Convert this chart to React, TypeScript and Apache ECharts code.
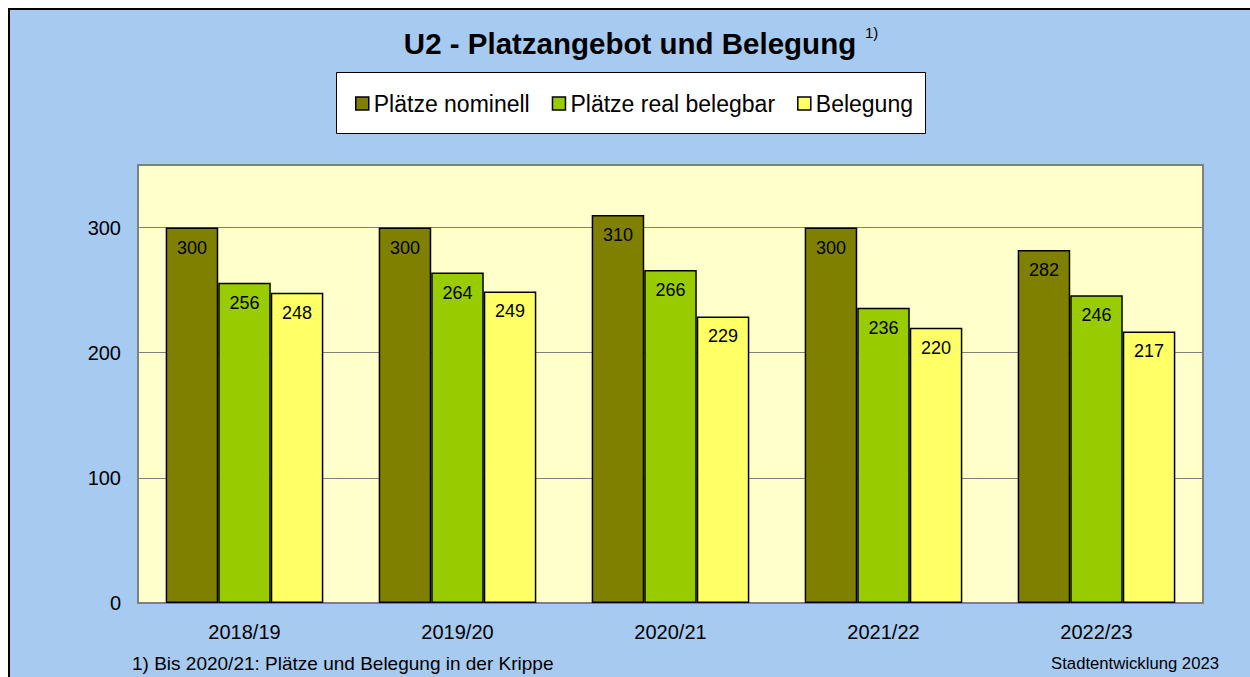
import React, { useEffect, useRef } from "react";
import * as echarts from "echarts";

const categories = ["2018/19", "2019/20", "2020/21", "2021/22", "2022/23"];
const nominell = [300, 300, 310, 300, 282];
const realBelegbar = [256, 264, 266, 236, 246];
const belegung = [248, 249, 229, 220, 217];
const seriesNames = ["Plätze nominell", "Plätze real belegbar", "Belegung"];
const seriesColors = ["#808000", "#99CC00", "#FFFF66"];

const FONT = "'Liberation Sans', Arial, sans-serif";

export default function App() {
  const ref = useRef<HTMLDivElement>(null);
  useEffect(() => {
    const chart = echarts.init(ref.current!, undefined, { renderer: "svg" });
    const values = [nominell, realBelegbar, belegung];
    chart.setOption({
      animation: false,
      backgroundColor: "#FFFFFF",
      textStyle: { fontFamily: FONT },
      graphic: [
        {
          type: "rect",
          z: -10,
          shape: { x: 9, y: 9, width: 1300, height: 700 },
          style: { fill: "#A6CAF0", stroke: "#000000", lineWidth: 2 },
        },
        {
          type: "rect",
          z: 0,
          shape: { x: 336.5, y: 72.5, width: 589, height: 61 },
          style: { fill: "#FFFFFF", stroke: "#000000", lineWidth: 1 },
        },
        {
          type: "text",
          x: 630,
          y: 43,
          style: {
            text: "U2 - Platzangebot und Belegung",
            fontFamily: FONT,
            fontWeight: "bold",
            fontSize: 29.5,
            fill: "#000000",
            align: "center",
            verticalAlign: "middle",
          },
        },
        {
          type: "text",
          x: 865,
          y: 32,
          style: {
            text: "1)",
            fontFamily: FONT,
            fontSize: 15,
            fill: "#000000",
            align: "left",
            verticalAlign: "middle",
          },
        },
        {
          type: "text",
          x: 132,
          y: 663,
          style: {
            text: "1) Bis 2020/21: Plätze und Belegung in der Krippe",
            fontFamily: FONT,
            fontSize: 19,
            fill: "#000000",
            align: "left",
            verticalAlign: "middle",
          },
        },
        {
          type: "text",
          x: 1219,
          y: 663,
          style: {
            text: "Stadtentwicklung 2023",
            fontFamily: FONT,
            fontSize: 16.7,
            fill: "#000000",
            align: "right",
            verticalAlign: "middle",
          },
        },
      ],
      legend: {
        left: 355,
        top: 92,
        padding: 0,
        itemGap: 22,
        itemWidth: 13,
        itemHeight: 13,
        icon: "rect",
        z: 5,
        textStyle: { fontFamily: FONT, fontSize: 23, color: "#000000" },
        data: seriesNames.map((n, i) => ({
          name: n,
          itemStyle: { color: seriesColors[i], borderColor: "#000000", borderWidth: 1.5 },
        })),
      },
      grid: {
        left: 138,
        right: 47,
        top: 165,
        bottom: 74,
        show: true,
        backgroundColor: "#FFFFCC",
        borderColor: "#808080",
        borderWidth: 2,
        containLabel: false,
      },
      xAxis: {
        type: "category",
        data: categories,
        axisLine: { show: false },
        axisTick: { show: false },
        axisLabel: { fontFamily: FONT, fontSize: 20, color: "#000000", margin: 19 },
      },
      yAxis: {
        type: "value",
        min: 0,
        max: 350,
        interval: 100,
        axisLine: { show: false },
        axisTick: { show: false },
        axisLabel: { fontFamily: FONT, fontSize: 20, color: "#000000", margin: 17, showMaxLabel: false },
        splitLine: { lineStyle: { color: "#808080", width: 1 } },
      },
      series: seriesNames.map((n, i) => ({
        name: n,
        type: "bar",
        data: values[i],
        barGap: "0%",
        barCategoryGap: "26%",
        itemStyle: { color: seriesColors[i], borderColor: "#000000", borderWidth: 1.5 },
        label: {
          show: true,
          position: "insideTop",
          distance: 11,
          fontFamily: FONT,
          fontSize: 18,
          color: "#000000",
        },
      })),
    });
    return () => chart.dispose();
  }, []);
  return (
    <div
      ref={ref}
      style={{ position: "fixed", left: 0, top: 0, width: 1250, height: 677 }}
    />
  );
}
